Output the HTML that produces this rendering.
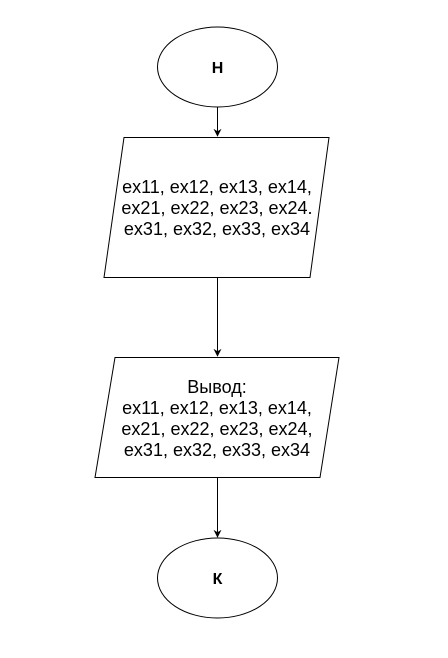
<!DOCTYPE html>
<html><head><meta charset="utf-8"><style>
html,body{margin:0;padding:0;background:#fff;}
</style></head><body>
<svg width="448" height="653" viewBox="0 0 448 653" xmlns="http://www.w3.org/2000/svg" font-family="'Liberation Sans', sans-serif">
<defs><marker id="a" viewBox="0 0 10 10" refX="9" refY="5" markerWidth="8" markerHeight="8" orient="auto" markerUnits="userSpaceOnUse"><path d="M0,0 L10,5 L0,10 L3,5 Z" fill="#000"/></marker></defs>
<ellipse cx="217.5" cy="67" rx="60" ry="40" fill="#fff" stroke="#000"/>
<text x="217.5" y="73" text-anchor="middle" font-size="16" font-weight="bold">Н</text>
<line x1="217.5" y1="107" x2="217.5" y2="136" stroke="#000" marker-end="url(#a)"/>
<polygon points="124,137.5 329,137.5 310,277.5 104,277.5" fill="#fff" stroke="#000"/>
<g font-size="18" text-anchor="middle" fill="#000">
<text x="217" y="193">ex11, ex12, ex13, ex14,</text>
<text x="217" y="214">ex21, ex22, ex23, ex24.</text>
<text x="217" y="235">ex31, ex32, ex33, ex34</text>
</g>
<line x1="217.5" y1="278" x2="217.5" y2="356" stroke="#000" marker-end="url(#a)"/>
<polygon points="115,357.5 339,357.5 320,477.5 95,477.5" fill="#fff" stroke="#000"/>
<g font-size="18" text-anchor="middle" fill="#000">
<text x="217" y="393">Вывод:</text>
<text x="217" y="414">ex11, ex12, ex13, ex14,</text>
<text x="217" y="435">ex21, ex22, ex23, ex24,</text>
<text x="217" y="456">ex31, ex32, ex33, ex34</text>
</g>
<line x1="217.5" y1="478" x2="217.5" y2="537" stroke="#000" marker-end="url(#a)"/>
<ellipse cx="217.5" cy="578" rx="60" ry="40" fill="#fff" stroke="#000"/>
<text x="217.5" y="584" text-anchor="middle" font-size="16" font-weight="bold">К</text>
</svg>
</body></html>
